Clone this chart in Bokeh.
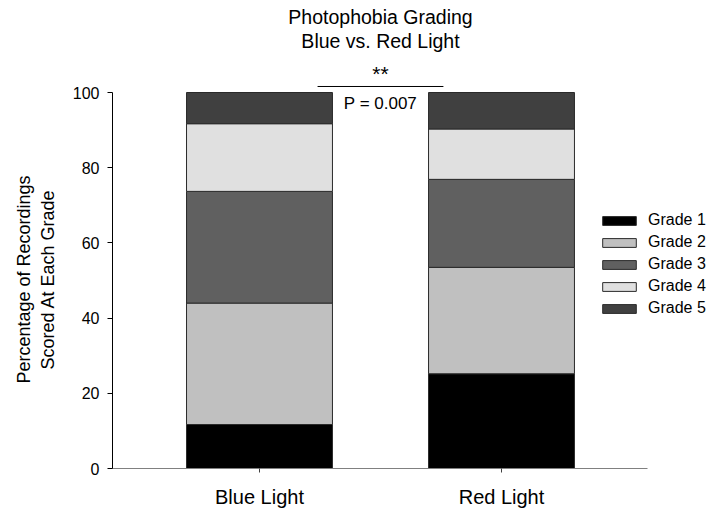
from bokeh.plotting import figure
from bokeh.models import Legend, LegendItem, Range1d, FixedTicker
from bokeh.embed import file_html
from bokeh.resources import INLINE
from bokeh.core.properties import value

# Data: percentage of recordings scored at each photophobia grade
conditions = ["Blue Light", "Red Light"]
grades = ["Grade 1", "Grade 2", "Grade 3", "Grade 4", "Grade 5"]
grade1 = [11.7, 25.2]
grade2 = [32.3, 28.3]
grade3 = [29.7, 23.4]
grade4 = [18.0, 13.4]
grade5 = [8.3, 9.7]
y_ticks = [0, 20, 40, 60, 80, 100]
p_text = "P = 0.007"
stars = "**"
title_lines = ["Photophobia Grading", "Blue vs. Red Light"]
y_label_lines = ["Percentage of Recordings", "Scored At Each Grade"]

colors = ["#000000", "#c0c0c0", "#606060", "#e0e0e0", "#404040"]
FONT = "Liberation Sans"

xs = list(range(1, len(conditions) + 1))
source = dict(x=xs)
for g, vals in zip(grades, [grade1, grade2, grade3, grade4, grade5]):
    source[g] = vals

# the frame spans the canvas above/right of the axes so the title, bracket
# and legend can be drawn in data space; axis lines are limited with bounds
p = figure(width=713, height=513, output_backend="svg", toolbar_location=None,
           x_range=Range1d(0.3926, 2.876), y_range=Range1d(0, 124.47),
           min_border_left=112, min_border_right=0, min_border_top=0,
           min_border_bottom=45)
p.outline_line_color = None
p.xgrid.visible = False
p.ygrid.visible = False
p.background_fill_color = "white"

renderers = p.vbar_stack(grades, x="x", width=0.603, source=source,
                         fill_color=colors, line_color="#2a2a2a", line_width=1)

# y axis
p.yaxis.bounds = (0, 100)
p.yaxis.ticker = FixedTicker(ticks=y_ticks)
p.yaxis.minor_tick_line_color = None
p.yaxis.major_tick_in = 0
p.yaxis.major_tick_out = 5
p.yaxis.axis_line_color = "#000000"
p.yaxis.major_tick_line_color = "#000000"
p.yaxis.major_label_text_font = FONT
p.yaxis.major_label_text_font_size = "16px"
p.yaxis.major_label_text_color = "#000000"
p.yaxis.major_label_standoff = 8
# trailing no-break spaces keep the label centred on the 0-100 span
pad = "\u00a0" * 18
p.yaxis.axis_label = "\n".join(line + pad for line in y_label_lines)
p.yaxis.axis_label_text_font = FONT
p.yaxis.axis_label_text_font_size = "18px"
p.yaxis.axis_label_text_font_style = "normal"
p.yaxis.axis_label_text_color = "#000000"
p.yaxis.axis_label_standoff = 12

# x axis
p.xaxis.bounds = (0.3926, 2.603)
p.xaxis.ticker = FixedTicker(ticks=xs)
p.xaxis.major_label_overrides = {x: c for x, c in zip(xs, conditions)}
p.xaxis.minor_tick_line_color = None
p.xaxis.major_tick_in = 0
p.xaxis.major_tick_out = 4
p.xaxis.axis_line_color = "#808080"
p.xaxis.major_tick_line_color = "#404040"
p.xaxis.major_label_text_font = FONT
p.xaxis.major_label_text_font_size = "20px"
p.xaxis.major_label_text_color = "#000000"
p.xaxis.major_label_standoff = 13

# significance bracket, stars and p-value
mid = (xs[0] + xs[1]) / 2
p.segment(x0=[mid - 0.26], x1=[mid + 0.26], y0=[101.6], y1=[101.6],
          line_color="#000000", line_width=1)
p.text(x=[mid], y=[97.1], text=[p_text], text_font=value(FONT),
       text_font_size="17px", text_align="center", text_baseline="middle",
       text_color="#000000")
p.text(x=[mid], y=[105.1], text=[stars], text_font=value(FONT),
       text_font_size="21px", text_align="center", text_baseline="alphabetic",
       text_color="#000000")

# title
p.text(x=[mid, mid], y=[119.95, 113.83], text=title_lines, text_font=value(FONT),
       text_font_size="19.5px", text_align="center", text_baseline="middle",
       text_color="#000000")

legend = Legend(items=[LegendItem(label=g, renderers=[r]) for g, r in zip(grades, renderers)],
                location=(486, 151), padding=0, margin=0, spacing=4,
                glyph_width=42, glyph_height=11, label_height=11,
                label_standoff=8, border_line_alpha=0, background_fill_alpha=0,
                label_text_font=FONT, label_text_font_size="16px",
                label_text_color="#000000")
p.add_layout(legend)

open("out.html", "w").write(file_html(p, INLINE))
